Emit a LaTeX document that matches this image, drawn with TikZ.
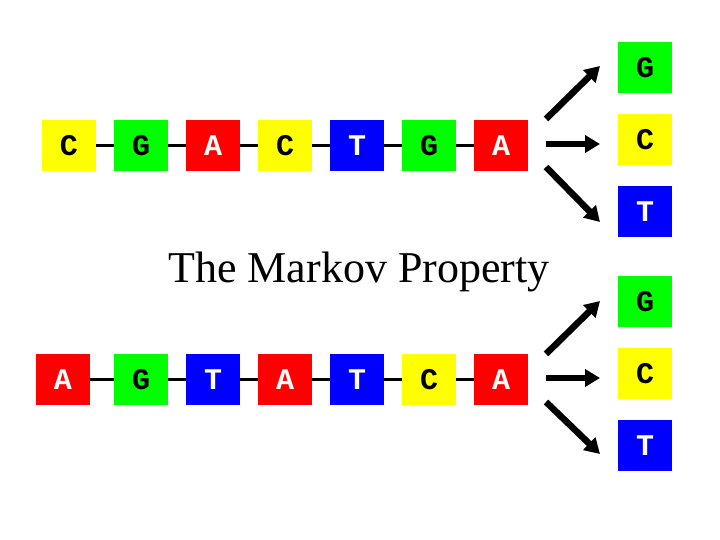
\documentclass[tikz,border=0pt]{standalone}
\usepackage{fontspec}
\setmainfont{Liberation Serif}
\newfontfamily\basefont{Liberation Mono}
\usetikzlibrary{positioning, arrows.meta, calc}
\definecolor{baseyellow}{HTML}{FFFF00}
\definecolor{basegreen}{HTML}{00FF00}
\definecolor{basered}{HTML}{FF0000}
\definecolor{baseblue}{HTML}{0000FF}
\tikzset{
  nuc/.style={minimum width=54pt, minimum height=51pt, inner sep=0pt,
              font=\basefont\bfseries\fontsize{30}{30}\selectfont},
  nucA/.style={nuc, fill=basered, text=white},
  nucC/.style={nuc, fill=baseyellow, text=black},
  nucG/.style={nuc, fill=basegreen, text=black},
  nucT/.style={nuc, fill=baseblue, text=white},
  link/.style={line width=2.5pt},
  fanarrow/.style={line width=6.5pt, -{Triangle[length=15pt, width=17pt]}}
}

\begin{document}
\begin{tikzpicture}[x=1pt, y=1pt]
    \useasboundingbox (0,0) rectangle (720,540);

    % upper chain
    \foreach \b/\x [count=\i] in {C/69, G/141, A/213, C/285, T/357, G/429, A/501}
      \node[nuc\b] (u\i) at (\x,394.5) {\b};
    \foreach \i/\j in {1/2, 2/3, 3/4, 4/5, 5/6, 6/7}
      \draw[link] (u\i) -- (u\j);

    % upper choices
    \node[nucG] (ug) at (645,472.5) {G};
    \node[nucC] (uc) at (645,400.5) {C};
    \node[nucT] (ut) at (645,328.5) {T};
    \coordinate (uoutg) at (546,421);
    \coordinate (uoutc) at (546,396);
    \coordinate (uoutt) at (546,373);
    \coordinate (uing) at (600,474);
    \coordinate (uinc) at (600,396);
    \coordinate (uint) at (600,318);
    \draw[fanarrow] (uoutg) -- (uing);
    \draw[fanarrow] (uoutc) -- (uinc);
    \draw[fanarrow] (uoutt) -- (uint);

    \node[font=\fontsize{44}{44}\selectfont, anchor=base] (heading) at (359,257) {The Markov Property};

    % lower chain
    \foreach \b/\x [count=\i] in {A/63, G/141, T/213, A/285, T/357, C/429, A/501}
      \node[nuc\b] (l\i) at (\x,160.5) {\b};
    \foreach \i/\j in {1/2, 2/3, 3/4, 4/5, 5/6, 6/7}
      \draw[link] (l\i) -- (l\j);

    % lower choices
    \node[nucG] (lg) at (645,238.5) {G};
    \node[nucC] (lc) at (645,166.5) {C};
    \node[nucT] (lt) at (645,94.5) {T};
    \coordinate (loutg) at (546,186);
    \coordinate (loutc) at (546,162);
    \coordinate (loutt) at (546,138);
    \coordinate (ling) at (600,239);
    \coordinate (linc) at (600,162);
    \coordinate (lint) at (600,86);
    \draw[fanarrow] (loutg) -- (ling);
    \draw[fanarrow] (loutc) -- (linc);
    \draw[fanarrow] (loutt) -- (lint);
\end{tikzpicture}
\end{document}
